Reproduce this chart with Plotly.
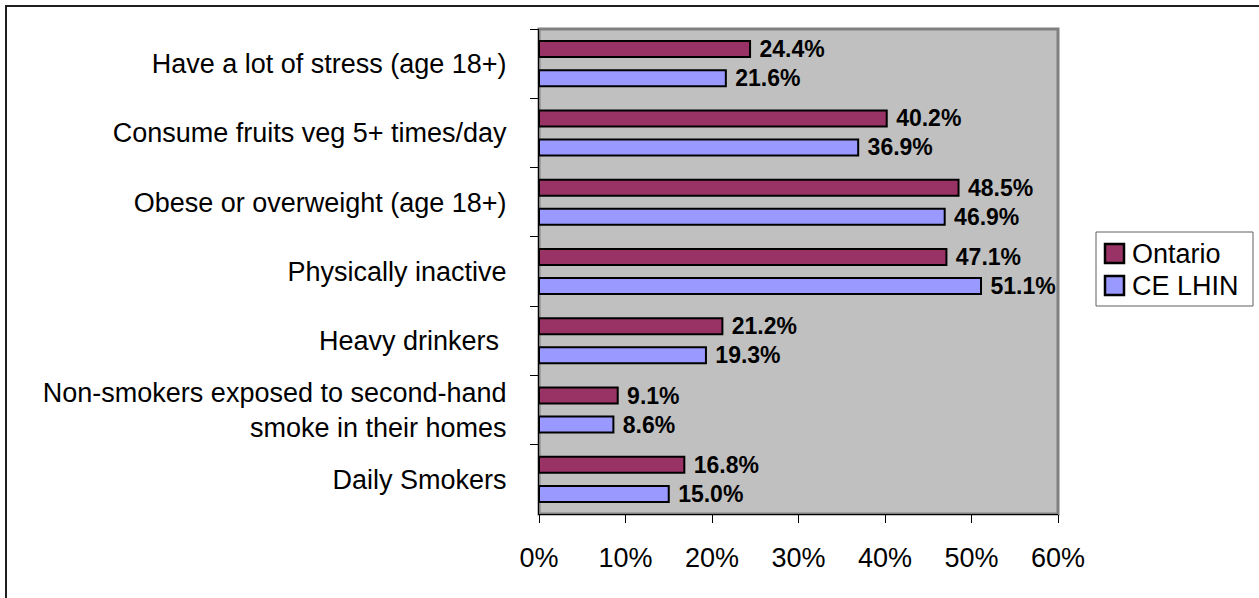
import plotly.graph_objects as go

categories = [
    "Have a lot of stress (age 18+)",
    "Consume fruits veg 5+ times/day",
    "Obese or overweight (age 18+)",
    "Physically inactive",
    "Heavy drinkers ",
    "Non-smokers exposed to second-hand<br>smoke in their homes",
    "Daily Smokers",
]
ontario = [24.4, 40.2, 48.5, 47.1, 21.2, 9.1, 16.8]
ce_lhin = [21.6, 36.9, 46.9, 51.1, 19.3, 8.6, 15.0]
series_names = ["Ontario", "CE LHIN"]
series_colors = ["#993366", "#9999FF"]
x_ticks = [0, 10, 20, 30, 40, 50, 60]
x_tick_labels = ["0%", "10%", "20%", "30%", "40%", "50%", "60%"]

FONT = "Arial, Liberation Sans, sans-serif"

W, H = 1259, 598
L, R, T, B = 539, 201, 29, 84
pw, ph = W - L - R, H - T - B


def px_x(px):
    return (px - L) / pw


def px_y(py):
    return (H - B - py) / ph


fig = go.Figure()
for name, vals, color in zip(series_names, [ontario, ce_lhin], series_colors):
    fig.add_trace(go.Bar(
        name=name, y=categories, x=vals, orientation="h",
        marker=dict(color=color, line=dict(color="black", width=2)),
        text=[f" {v:.1f}%" for v in vals], textposition="outside",
        textfont=dict(family=FONT, size=23, color="black", weight="bold"),
        constraintext="none", cliponaxis=False, showlegend=False,
    ))

# outer frame
fig.add_shape(type="rect", xref="paper", yref="paper", x0=px_x(6), x1=3, y0=-3, y1=px_y(6),
              line=dict(color="#202020", width=2), fillcolor="rgba(0,0,0,0)", layer="below")
# plot area border
fig.add_shape(type="rect", xref="paper", yref="paper", x0=0, x1=1, y0=0, y1=1,
              line=dict(color="#808080", width=3), fillcolor="rgba(0,0,0,0)", layer="below")

# legend box (drawn manually to match large square swatches)
fig.add_shape(type="rect", xref="paper", yref="paper", x0=px_x(1096), x1=px_x(1253),
              y0=px_y(306), y1=px_y(232), line=dict(color="#606060", width=1), fillcolor="white")
for i, (name, color) in enumerate(zip(series_names, series_colors)):
    top = 244 + i * 32
    fig.add_shape(type="rect", xref="paper", yref="paper", x0=px_x(1105), x1=px_x(1124),
                  y0=px_y(top + 19), y1=px_y(top), line=dict(color="black", width=2.5),
                  fillcolor=color)
    fig.add_annotation(xref="paper", yref="paper", x=px_x(1130), y=px_y(top + 10),
                       xanchor="left", yanchor="middle", text=name, showarrow=False,
                       font=dict(family=FONT, size=27, color="black"))

fig.update_layout(
    width=W, height=H,
    margin=dict(l=L, r=R, t=T, b=B, pad=0),
    paper_bgcolor="white", plot_bgcolor="#C0C0C0",
    barmode="group", bargap=0.16, bargroupgap=0.45,
    font=dict(family=FONT, size=27, color="black"),
    showlegend=False,
)
fig.update_xaxes(range=[0, 60], tickvals=x_ticks, ticktext=x_tick_labels,
                 showgrid=False, zeroline=False, showline=True, linecolor="black", linewidth=1,
                 ticks="outside", ticklen=8, tickcolor="black", ticklabelstandoff=12,
                 tickfont=dict(family=FONT, size=27))
fig.update_yaxes(autorange="reversed", type="category", showgrid=False, showline=True,
                 linecolor="black", linewidth=1, ticks="outside", ticklen=8, tickcolor="black",
                 tickson="boundaries", ticklabelstandoff=26,
                 tickfont=dict(family=FONT, size=27))

fig.write_html("out.html")
